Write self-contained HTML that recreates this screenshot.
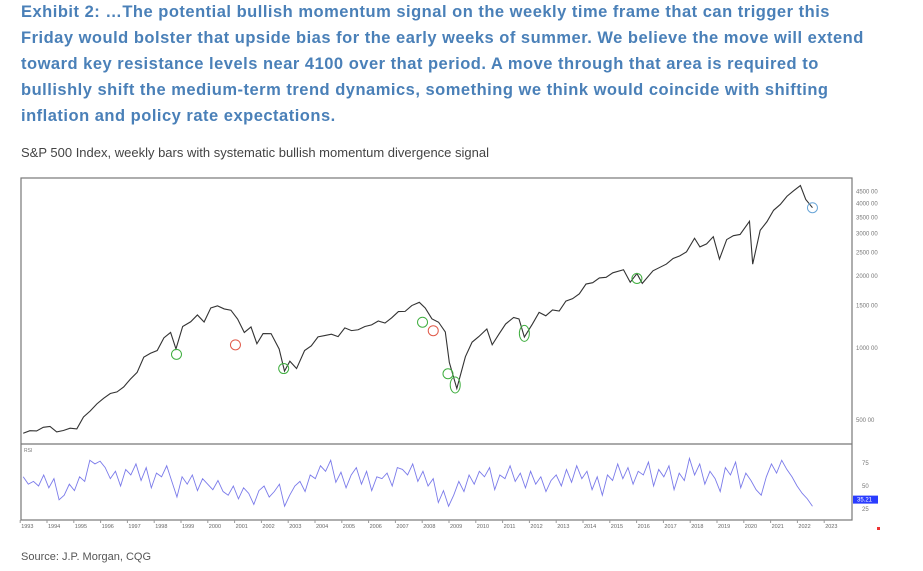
<!DOCTYPE html>
<html><head><meta charset="utf-8">
<style>
body{margin:0;width:923px;height:571px;background:#fff;overflow:hidden;font-family:"Liberation Sans",sans-serif;}
#hdr{position:absolute;left:21px;top:-1px;width:900px;white-space:nowrap;font-weight:bold;font-size:16.5px;line-height:26px;color:#4a80b8;letter-spacing:0.5px}
#sub{position:absolute;left:21px;top:145px;font-size:13px;color:#444}
#src{position:absolute;left:21px;top:551px;font-size:11px;color:#555}
svg{position:absolute;left:0;top:0}
</style></head><body>
<div id="hdr">Exhibit 2: …The potential bullish momentum signal on the weekly time frame that can trigger this<br>Friday would bolster that upside bias for the early weeks of summer. We believe the move will extend<br>toward key resistance levels near 4100 over that period. A move through that area is required to<br>bullishly shift the medium-term trend dynamics, something we think would coincide with shifting<br>inflation and policy rate expectations.</div>
<div id="sub">S&amp;P 500 Index, weekly bars with systematic bullish momentum divergence signal</div>
<div id="src">Source: J.P. Morgan, CQG</div>
<svg id="chart" width="923" height="571"></svg>
<script>
const priceDates=[1993.0,1993.25,1993.5,1993.75,1994.0,1994.25,1994.5,1994.75,1995.0,1995.25,1995.5,1995.75,1996.0,1996.25,1996.5,1996.75,1997.0,1997.25,1997.5,1997.75,1998.0,1998.25,1998.5,1998.7,1998.95,1999.25,1999.5,1999.75,2000.0,2000.25,2000.5,2000.75,2001.0,2001.25,2001.5,2001.72,2001.95,2002.25,2002.55,2002.75,2002.95,2003.2,2003.5,2003.75,2004.0,2004.25,2004.5,2004.75,2005.0,2005.25,2005.5,2005.75,2006.0,2006.25,2006.5,2006.75,2007.0,2007.25,2007.5,2007.78,2008.0,2008.25,2008.5,2008.75,2008.9,2009.18,2009.5,2009.75,2010.0,2010.3,2010.5,2010.75,2011.0,2011.3,2011.5,2011.7,2012.0,2012.25,2012.5,2012.75,2013.0,2013.25,2013.5,2013.75,2014.0,2014.25,2014.5,2014.75,2015.0,2015.4,2015.65,2015.9,2016.1,2016.5,2016.75,2017.0,2017.25,2017.5,2017.75,2018.05,2018.25,2018.5,2018.75,2018.98,2019.25,2019.5,2019.75,2020.1,2020.22,2020.5,2020.75,2021.0,2021.25,2021.5,2021.75,2022.0,2022.2,2022.45];
const priceValues=[440,451,450,466,470,446,452,462,459,515,545,584,616,645,655,687,741,790,915,950,975,1102,1160,990,1229,1286,1373,1283,1469,1499,1455,1437,1320,1160,1224,1041,1148,1147,990,800,880,820,975,1020,1112,1126,1141,1115,1212,1181,1191,1229,1248,1295,1270,1336,1418,1421,1503,1550,1468,1323,1280,1166,870,677,919,1057,1115,1200,1031,1141,1258,1340,1321,1110,1258,1408,1362,1441,1426,1569,1606,1682,1848,1872,1960,1972,2059,2120,1880,2044,1860,2099,2168,2239,2363,2423,2519,2870,2641,2718,2914,2350,2834,2942,2977,3380,2237,3100,3363,3756,3973,4298,4536,4766,4170,3850];
const rsiValues=[60,52,55,50,62,48,58,35,40,52,45,60,55,78,74,77,70,58,66,50,68,62,74,56,70,48,64,60,72,55,38,60,52,62,45,58,52,46,56,44,40,50,36,48,42,30,45,50,38,44,52,28,40,50,55,44,62,58,72,66,78,54,65,48,62,70,52,66,45,60,58,64,50,70,68,62,74,55,66,50,58,32,45,28,40,55,44,62,52,66,60,70,46,62,58,72,55,64,48,66,52,60,44,56,62,50,68,54,72,58,66,46,60,40,62,56,74,58,70,52,66,62,76,50,68,60,72,46,64,56,80,62,74,52,66,58,44,70,62,76,48,64,56,46,40,60,74,64,78,68,60,50,42,36,28];
const rsiDates=rsiValues.map((v,i)=>1993+i*(29.45/(rsiValues.length-1)));
const signalDates=[1998.72,2000.92,2002.72,2007.9,2008.3,2008.85,2009.12,2011.7,2015.9,2022.45];
const signalValues=[940,1030,820,1280,1180,780,700,1150,1950,3850];
const signalColors=["g","r","g","g","r","g","g","g","g","b"];
const priceTicks=[4500,4000,3500,3000,2500,2000,1500,1000,500];
const rsiTicks=[75,50,25];
const yearTicks=[1993,1994,1995,1996,1997,1998,1999,2000,2001,2002,2003,2004,2005,2006,2007,2008,2009,2010,2011,2012,2013,2014,2015,2016,2017,2018,2019,2020,2021,2022,2023];

const NS="http://www.w3.org/2000/svg";
const svg=document.getElementById('chart');
function mk(t,a){const e=document.createElementNS(NS,t);for(const k in a)e.setAttribute(k,a[k]);svg.appendChild(e);return e;}
const X=d=>50+(d-1994)*26.8;
const Y=v=>420-104*Math.log(v/500);
const R=v=>486-(v-50)*0.92;
const L=21,Rt=852,T=178,MB=444,RB=520;
let f=mk('rect',{x:L,y:T,width:Rt-L,height:RB-T,fill:'none',stroke:'#777','stroke-width':1.2});

let s=mk('line',{x1:L,x2:Rt,y1:MB,y2:MB,stroke:'#777','stroke-width':1.2});

let lb=mk('text',{x:L+3,y:MB+8,'font-size':5,fill:'#777'});lb.textContent='RSI';

priceTicks.forEach(v=>{const t=mk('text',{x:856,y:Y(v)+2,'font-size':6,fill:'#777'});t.textContent=v+' 00';
});
rsiTicks.forEach(v=>{const t=mk('text',{x:862,y:R(v)+2,'font-size':6,fill:'#777'});t.textContent=v;
});
let bx=mk('rect',{x:853,y:R(35.2)-4,width:25,height:8,fill:'#2a3cff'});

let bt=mk('text',{x:857,y:R(35.2)+2,'font-size':6,fill:'#fff'});bt.textContent='35.21';

yearTicks.forEach(y=>{const t=mk('text',{x:X(y)-2,y:528,'font-size':5.5,fill:'#666'});t.textContent=y;

const l=mk('line',{x1:X(y)-3,x2:X(y)-3,y1:RB,y2:RB+3,stroke:'#999'});
});
let pp=mk('polyline',{points:priceDates.map((d,i)=>X(d)+','+Y(priceValues[i])).join(' '),fill:'none',stroke:'#333','stroke-width':1.1});

let rp=mk('polyline',{points:rsiDates.map((d,i)=>X(d)+','+R(rsiValues[i])).join(' '),fill:'none',stroke:'#7b7bea','stroke-width':0.9});

const col={g:'#3fae3f',r:'#e05a4a',b:'#6aa6d8'};
signalDates.forEach((d,i)=>{const c=mk('ellipse',{cx:X(d),cy:Y(signalValues[i]),rx:5,ry:i==6||i==7?8:5,fill:'none',stroke:col[signalColors[i]],'stroke-width':1});
});
let rd=mk('rect',{x:877,y:527,width:3,height:3,fill:'#e33'});

</script>
</body></html>
